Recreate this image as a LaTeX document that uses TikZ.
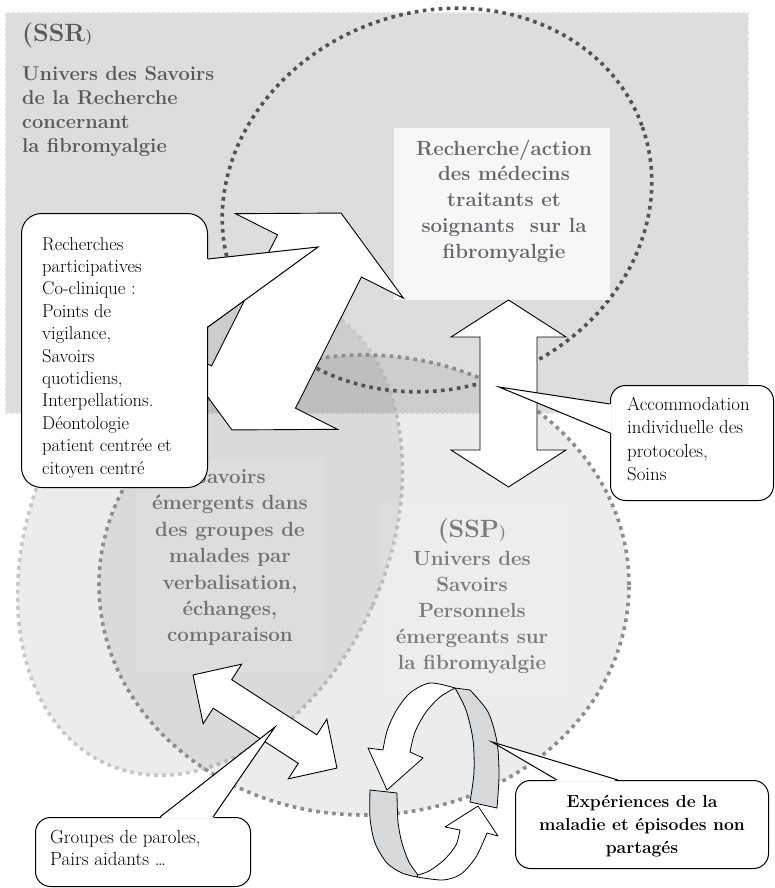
\documentclass[tikz,border=0pt]{standalone}
\usetikzlibrary{calc}
\definecolor{ssrgray}{RGB}{88,89,92}
\definecolor{labelgray}{RGB}{102,103,106}
\definecolor{softgray}{RGB}{112,112,115}
\definecolor{sspgray}{RGB}{122,122,125}
\definecolor{dotdark}{RGB}{82,82,85}
\definecolor{dotmid}{RGB}{140,140,143}
\definecolor{dotlight}{RGB}{198,198,200}
\definecolor{ribbongray}{RGB}{216,217,219}

% double headed block arrow: centre, angle, half length, head length, head half width, shaft half width
\newcommand{\dblarrow}[6]{%
  \begin{scope}[shift={#1}, rotate=#2]
    \filldraw[whitearrow] (-#3,0) -- ({-#3+#4},#5) -- ({-#3+#4},#6) -- ({#3-#4},#6) -- ({#3-#4},#5)
         -- (#3,0) -- ({#3-#4},-#5) -- ({#3-#4},-#6) -- ({-#3+#4},-#6) -- ({-#3+#4},-#5) -- cycle;
  \end{scope}}

\begin{document}
\begin{tikzpicture}[x=1pt, y=-1pt,
    zonefill/.style={fill=black, fill opacity=0.075},
    darkdots/.style={draw=dotdark, line width=3.6pt, dash pattern=on 3.6pt off 4.4pt},
    middots/.style={draw=dotmid, line width=3.6pt, dash pattern=on 3.6pt off 4.4pt},
    lightdots/.style={draw=dotlight, line width=3.6pt, dash pattern=on 3.6pt off 4.4pt},
    whitearrow/.style={draw=black, fill=white, line width=0.9pt, line join=miter},
    ribbonfront/.style={draw=black, fill=white, line width=0.8pt, line join=round},
    ribbonback/.style={draw=black, fill=ribbongray, line width=0.8pt, line join=round},
    calloutbox/.style={draw=black, fill=white, line width=1pt, rounded corners=15pt, inner sep=0pt, anchor=north west},
    wedge/.style={draw=black, line width=1pt, line join=miter},
    calltext/.style={inner sep=0pt, align=left, anchor=north west, font=\fontsize{18.8}{23.3}\selectfont},
    zonetext/.style={inner sep=0pt, align=center, anchor=north, font=\bfseries\fontsize{20.5}{25.8}\selectfont}]
    \useasboundingbox (0,0) rectangle (774,888);

    % SSR universe
    \filldraw[fill=black, fill opacity=0.135, draw=black!11, line width=2.5pt, dash pattern=on 3pt off 2pt]
         (6,13) rectangle (748,413);
    % Group knowledge and SSP universe
    \filldraw[zonefill, lightdots, rotate around={-24:(210,533)}] (210,533) ellipse [x radius=178pt, y radius=253pt];
    \filldraw[zonefill, middots] (364,585) ellipse [x radius=265pt, y radius=230pt];
    \fill[white, fill opacity=0.07] (135,458) rectangle (325,673);
    \fill[white, fill opacity=0.07] (380,502) rectangle (567,697);

    \node[inner sep=0pt, align=left, anchor=north west, text=ssrgray, font=\bfseries\fontsize{20}{24}\selectfont] (ssrlabel) at (22,23)
         {{\fontsize{25}{30}\selectfont(SSR}{\fontsize{16}{19}\selectfont)}\\[15pt]Univers des Savoirs\\de la Recherche\\concernant\\la fibromyalgie};
    \node[zonetext, text=softgray, font=\bfseries\fontsize{20.5}{26.4}\selectfont] (grouplabel) at (230,469)
         {Savoirs\\émergents dans\\des groupes de\\malades par\\verbalisation,\\échanges,\\comparaison};
    \node[zonetext, text=sspgray] (ssplabel) at (472,519)
         {{\fontsize{25}{30}\selectfont(SSP}{\fontsize{16}{19}\selectfont)}\\[2.2pt]Univers des\\Savoirs\\Personnels\\émergeants sur\\la fibromyalgie};

    % Research / action circle
    \draw[darkdots, rotate around={20:(437,200)}] (437,200) ellipse [x radius=218pt, y radius=188pt];
    \node[fill=black!3, inner sep=0pt, minimum width=216pt, minimum height=172pt, anchor=north west] (actionbox) at (394,128) {};
    \node[zonetext, text=labelgray] (actionlabel) at (504,139.6)
         {Recherche/action\\des médecins\\traitants et\\soignants\ \ sur la\\fibromyalgie};

    % Exchange arrows
    \dblarrow{(286.5,321.5)}{63.3}{121.4}{48}{94}{47}
    \dblarrow{(508.5,393.5)}{90}{93.5}{37}{57.5}{28.5}
    \dblarrow{(265,721.5)}{-32.9}{85.7}{35}{35.5}{17}

    % Cycle of lived experience
    \filldraw[ribbonback] plot[smooth] coordinates {(455,688) (466,710) (473,740) (474,772) (470,802)}
         -- (497,808) -- plot[smooth] coordinates {(497,808) (499,775) (497,742) (488,712) (470,690)} -- cycle;
    \filldraw[ribbonfront] plot[smooth] coordinates {(455,688) (430,683) (410,693) (396,711) (387,731) (383,750)}
         -- (368,748) -- (387,790) -- (423,758) -- (410,752)
         -- plot[smooth] coordinates {(410,752) (415,732) (426,712) (440,697) (455,688)} -- cycle;
    \filldraw[ribbonback] (370,790) -- (397,793)
         -- plot[smooth] coordinates {(397,793) (398,822) (402,843) (409,862) (418,875)}
         -- plot[smooth] coordinates {(417,877) (402,873) (387,863) (375,843) (370,818) (370,790)} -- cycle;
    \filldraw[ribbonfront] plot[smooth] coordinates {(417,877) (443,880) (461,874) (476,857) (487,833)}
         -- (498,836) -- (478,806) -- (445,827) -- (460,830)
         -- plot[smooth] coordinates {(460,830) (456,845) (444,860) (429,871) (418,875)} -- cycle;

    % Callouts
    \node[calloutbox, rounded corners=20pt, minimum width=186pt, minimum height=274pt] (partbox) at (21,213) {};
    \coordinate (parttip) at (318,247);
    \fill[white] ([shift={(-1.5pt,-46pt)}]partbox.north east) -- (parttip) -- ([shift={(-1.5pt,-114pt)}]partbox.north east) -- cycle;
    \draw[wedge] ([yshift=-46pt]partbox.north east) -- (parttip) -- ([yshift=-114pt]partbox.north east);
    \node[calltext, font=\fontsize{18.5}{22.4}\selectfont] (parttext) at ([shift={(21pt,-24pt)}]partbox.north west)
         {Recherches\\participatives\\Co-clinique :\\Points de\\vigilance,\\Savoirs\\quotidiens,\\Interpellations.\\Déontologie\\patient centrée et\\citoyen centré};

    \node[calloutbox, minimum width=163pt, minimum height=115pt] (carebox) at (610,385) {};
    \coordinate (caretip) at (499,387);
    \fill[white] ([shift={(1.5pt,-19pt)}]carebox.north west) -- (caretip) -- ([shift={(1.5pt,-48pt)}]carebox.north west) -- cycle;
    \draw[wedge] ([yshift=-19pt]carebox.north west) -- (caretip) -- ([yshift=-48pt]carebox.north west);
    \node[calltext] (caretext) at ([shift={(17pt,-12pt)}]carebox.north west)
         {Accommodation\\individuelle des\\protocoles,\\Soins};

    \node[calloutbox, minimum width=215pt, minimum height=69pt] (peerbox) at (35,817) {};
    \coordinate (peertip) at (275,727);
    \fill[white] ([shift={(125pt,-1.5pt)}]peerbox.north west) -- (peertip) -- ([shift={(178pt,-1.5pt)}]peerbox.north west) -- cycle;
    \draw[wedge] ([xshift=125pt]peerbox.north west) -- (peertip) -- ([xshift=178pt]peerbox.north west);
    \node[calltext, font=\fontsize{19}{22}\selectfont] (peertext) at ([shift={(15pt,-13pt)}]peerbox.north west)
         {Groupes de paroles,\\Pairs aidants …};

    \node[calloutbox, minimum width=253pt, minimum height=88pt] (livedbox) at (515,780) {};
    \coordinate (livedtip) at (492,742);
    \fill[white] ([shift={(42pt,-1.5pt)}]livedbox.north west) -- (livedtip) -- ([shift={(103pt,-1.5pt)}]livedbox.north west) -- cycle;
    \draw[wedge] ([xshift=42pt]livedbox.north west) -- (livedtip) -- ([xshift=103pt]livedbox.north west);
    \node[inner sep=0pt, align=center, anchor=north, font=\bfseries\fontsize{17.5}{23}\selectfont] (livedtext)
         at ([yshift=-14.5pt]livedbox.north) {Expériences de la\\maladie et épisodes non\\partagés};
\end{tikzpicture}
\end{document}
